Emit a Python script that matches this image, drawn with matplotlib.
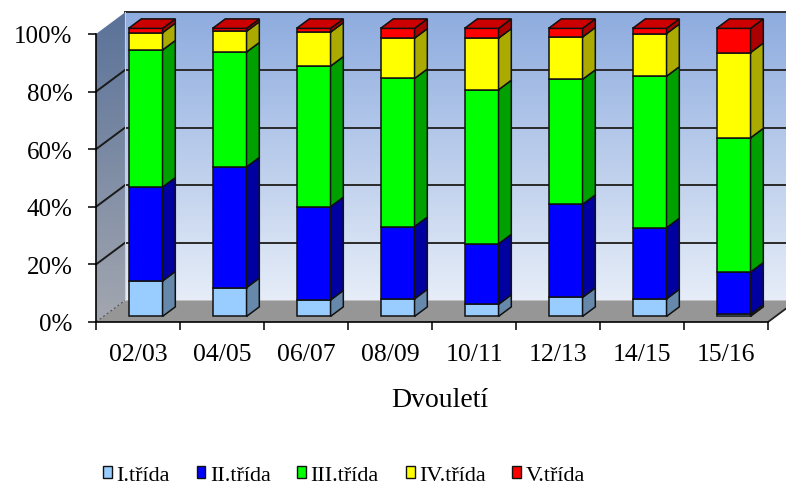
import numpy as np
import matplotlib
matplotlib.use("Agg")
import matplotlib.pyplot as plt
from matplotlib.patches import Polygon, Rectangle, Patch
from matplotlib.ticker import FixedLocator

plt.rcParams['font.family'] = ['Liberation Serif', 'DejaVu Serif']

# ---- data (share of each class per two-year period, %) ----
periods = ["02/03", "04/05", "06/07", "08/09", "10/11", "12/13", "14/15", "15/16"]
class_names = ["I.třída", "II.třída", "III.třída", "IV.třída", "V.třída"]
tr_I = [12.3, 10.0, 5.7, 6.1, 4.2, 6.6, 6.1, 0.7]
tr_II = [32.6, 41.9, 32.4, 25.1, 21.0, 32.3, 24.7, 14.7]
tr_III = [47.6, 39.9, 48.8, 51.4, 53.5, 43.4, 52.6, 46.6]
tr_IV = [6.0, 7.2, 11.8, 14.0, 17.9, 14.7, 14.8, 29.6]
tr_V = [1.5, 1.0, 1.3, 3.4, 3.4, 3.0, 1.8, 8.4]
y_ticks = [0, 20, 40, 60, 80, 100]

front_cols = ["#99CCFF", "#0000FF", "#00FF00", "#FFFF00", "#FF0000"]
side_cols = ["#6688AA", "#0000A0", "#00A000", "#AAAA00", "#AA0000"]
top_cols = ["#7AA3CC", "#0000CC", "#00CC00", "#CCCC00", "#CC0000"]

series = np.array([tr_I, tr_II, tr_III, tr_IV, tr_V], dtype=float)
series = series / series.sum(axis=0) * 100.0
n = len(periods)

# ---- figure / axes (axes covers whole figure, oblique 3-D drawn in data units) ----
W_PX, H_PX = 786, 485
fig = plt.figure(figsize=(W_PX / 100, H_PX / 100), dpi=100)
ax = fig.add_axes([0, 0, 1, 1])
x_left_px, x_step_px = 96, 84
y_zero_px, y_step_px = 323, 2.88
ax.set_xlim(-0.5 - x_left_px / x_step_px, -0.5 + (W_PX - x_left_px) / x_step_px)
ax.set_ylim(-(H_PX - y_zero_px) / y_step_px, y_zero_px / y_step_px)
ax.patch.set_visible(False)

DX, DY = 29 / 84, 7.5        # full depth of the 3-D box
f1, f2 = 0.26, 0.70          # bar front / back depth fraction
BW = 0.405                   # bar width
x0, x1 = -0.5, n - 0.5

# back wall gradient
grad = np.linspace(0, 1, 256).reshape(-1, 1)
back_cmap = matplotlib.colors.LinearSegmentedColormap.from_list("bw", ["#E6EDF8", "#8EACDF"])
ax.imshow(grad, cmap=back_cmap, origin="lower", aspect="auto",
          extent=(x0 + DX, x1 + DX, DY, 100 + DY), zorder=0, interpolation="bilinear")

# side wall gradient clipped to its parallelogram
side_poly = Polygon([(x0, 0), (x0 + DX, DY), (x0 + DX, 100 + DY), (x0, 100)],
                    closed=True, facecolor="none", edgecolor="none", transform=ax.transData)
ax.add_patch(side_poly)
side_cmap = matplotlib.colors.LinearSegmentedColormap.from_list("sw", ["#A3A7B0", "#5A7299"])
im_side = ax.imshow(grad, cmap=side_cmap, origin="lower", aspect="auto",
                    extent=(x0, x0 + DX, 0, 100 + DY), zorder=0, interpolation="bilinear")
im_side.set_clip_path(side_poly)

# floor
ax.add_patch(Polygon([(x0, 0), (x1, 0), (x1 + DX, DY), (x0 + DX, DY)], closed=True,
                     facecolor="#969696", edgecolor="none", zorder=1))
ax.plot([x1, x1 + DX], [0, DY], color="#222222", lw=1.3, zorder=2, solid_capstyle="butt")
ax.plot([x0, x0 + DX], [0, DY], color="#555555", lw=0.8, ls=(0, (2, 2)), zorder=2)

# gridlines on back and side walls
for v in y_ticks[1:]:
    ax.plot([x0 + DX, x1 + DX], [v + DY, v + DY], color="#2a2a2a", lw=1.4, zorder=2)
    if v < 100:
        ax.plot([x0, x0 + DX], [v, v + DY], color="#1a1a1a", lw=1.4, zorder=2)
ax.plot([x0 + DX, x0 + DX], [DY, 100 + DY], color="#c8d0dc", lw=0.8, zorder=2)

# bars
ddx, ddy = (f2 - f1) * DX, (f2 - f1) * DY
ox, oy = f1 * DX, f1 * DY
for i in range(n):
    bottom = 0.0
    left = i - BW / 2 + ox
    for k in range(series.shape[0]):
        h = series[k, i]
        yb, yt = bottom + oy, bottom + h + oy
        ax.add_patch(Rectangle((left, yb), BW, h, facecolor=front_cols[k],
                               edgecolor="#111111", lw=1.1, zorder=5))
        ax.add_patch(Polygon([(left + BW, yb), (left + BW + ddx, yb + ddy),
                              (left + BW + ddx, yt + ddy), (left + BW, yt)], closed=True,
                             facecolor=side_cols[k], edgecolor="#111111", lw=1.1, zorder=5))
        bottom += h
    yt = bottom + oy
    ax.add_patch(Polygon([(left, yt), (left + BW, yt), (left + BW + ddx, yt + ddy),
                          (left + ddx, yt + ddy)], closed=True,
                         facecolor=top_cols[-1], edgecolor="#111111", lw=1.1, zorder=6))

# axes lines and ticks
for s in ["top", "right"]:
    ax.spines[s].set_visible(False)
ax.spines["left"].set_position(("data", x0))
ax.spines["left"].set_bounds(0, 100)
ax.spines["bottom"].set_position(("data", 0))
ax.spines["bottom"].set_bounds(x0, x1)
for s in ["left", "bottom"]:
    ax.spines[s].set_color("black")
    ax.spines[s].set_linewidth(1.2)
    ax.spines[s].set_zorder(7)

ax.yaxis.set_major_locator(FixedLocator(y_ticks))
ax.set_yticklabels([f"{v}%" for v in y_ticks])
ax.tick_params(axis="y", direction="out", length=6, width=1.1, pad=11, labelsize=18, colors="black")

ax.xaxis.set_major_locator(FixedLocator(range(n)))
ax.set_xticklabels(periods)
ax.xaxis.set_minor_locator(FixedLocator(np.arange(x0, x1 + 0.01, 1.0)))
ax.tick_params(axis="x", which="major", length=0, pad=15, labelsize=18.5)
ax.tick_params(axis="x", which="minor", direction="out", length=5.5, width=1.1, color="black")

ax.text(3.5 + DX * 0.28, -27.0, "Dvouletí", ha="center", va="center", fontsize=20)

handles = [Patch(facecolor=c, edgecolor="#111111", lw=1.0) for c in front_cols]
fig.legend(handles, class_names, loc="lower left", bbox_to_anchor=(103 / W_PX, -0.002),
           ncol=5, frameon=False, fontsize=16, handlelength=0.4, handleheight=0.4,
           handletextpad=0.2, columnspacing=1.2, borderpad=0, borderaxespad=0)

fig.savefig("out.png", dpi=100)
